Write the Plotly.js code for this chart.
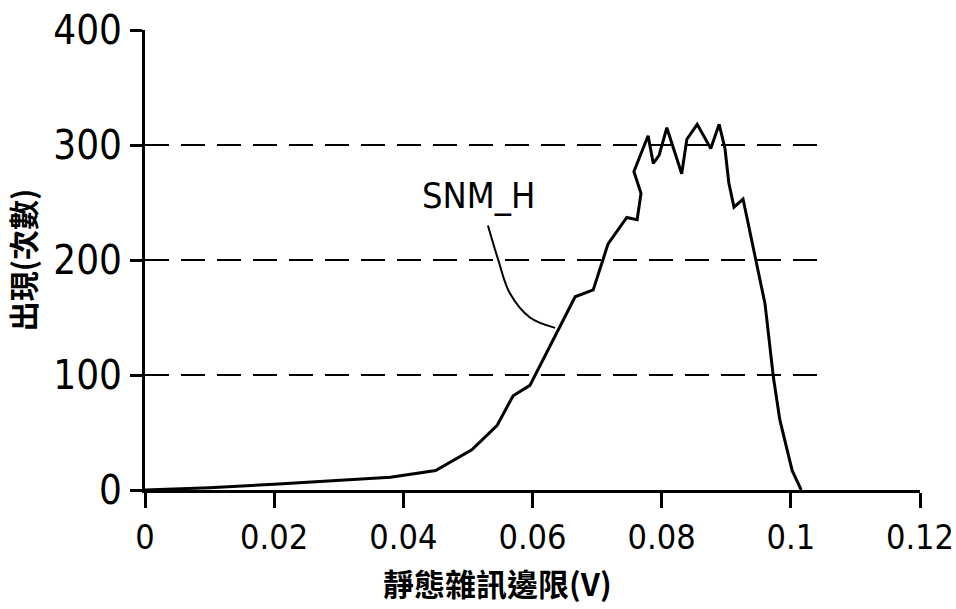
<!DOCTYPE html>
<html>
<head>
<meta charset="utf-8">
<script src="https://cdn.plot.ly/plotly-3.0.1.min.js"></script>
<style>
html,body{margin:0;padding:0;background:#fff;}
#chart{width:956px;height:609px;}
</style>
</head>
<body>
<div id="chart"></div>
<script>
// Data
const snmX = [0, 0.010, 0.020, 0.030, 0.038, 0.045, 0.0506, 0.0545, 0.057, 0.0596, 0.0666, 0.0694, 0.0717, 0.0746, 0.0762, 0.0768, 0.0757, 0.0779, 0.0787, 0.0796, 0.0808, 0.0831, 0.0839, 0.0855, 0.0876, 0.0889, 0.0898, 0.0904, 0.0912, 0.0926, 0.0960, 0.0973, 0.0983, 0.1002, 0.1016];
const snmY = [0, 2, 5, 8, 11, 17, 35, 56, 82, 91, 168, 174, 214, 237, 235, 258, 277, 308, 284, 291, 315, 275, 305, 318, 297, 318, 297, 267, 246, 253, 162, 98, 61, 17, 0];
const seriesName = "SNM_H";
const leaderX = [0.0531, 0.0547, 0.0565, 0.0596, 0.0635];
const leaderY = [230, 200, 171, 150, 141];
const labelPos = [0.0516, 256];
const xTickVals = [0, 0.02, 0.04, 0.06, 0.08, 0.1, 0.12];
const xTickText = ["0", "0.02", "0.04", "0.06", "0.08", "0.1", "0.12"];
const yTickVals = [0, 100, 200, 300, 400];
const yTickText = ["0", "100", "200", "300", "400"];
const gridValues = [100, 200, 300];
const gridEnd = 0.1048;
const xTitle = "靜態雜訊邊限(V)";
const yTitle = "出現(次數)";

const narrow = "'Liberation Sans Narrow', 'DejaVu Sans Condensed', 'Arial Narrow', sans-serif";
const cjk = "'Noto Sans CJK TC', 'Noto Sans CJK SC', sans-serif";

const traces = [
  {x: snmX, y: snmY, mode: "lines", name: seriesName,
   line: {color: "#000", width: 3}, hoverinfo: "skip"},
  {x: leaderX, y: leaderY, mode: "lines", showlegend: false,
   line: {color: "#000", width: 2, shape: "spline"}, hoverinfo: "skip"}
];

const shapes = gridValues.map(v => ({
  type: "line", xref: "x", yref: "y", x0: 0, x1: gridEnd, y0: v, y1: v,
  line: {color: "#000", width: 2, dash: "24px,12px"}, layer: "below"
}));

const layout = {
  width: 956, height: 609,
  margin: {l: 145, r: 36, t: 30, b: 119},
  paper_bgcolor: "#fff", plot_bgcolor: "#fff",
  showlegend: false,
  xaxis: {
    range: [0, 0.12], tickvals: xTickVals, ticktext: xTickText,
    showgrid: false, zeroline: false, showline: true, linecolor: "#000", linewidth: 3,
    ticks: "outside", ticklen: 15, tickwidth: 3, tickcolor: "#000",
    ticklabeloverflow: "allow",
    tickfont: {family: narrow, size: 34, color: "#000"}
  },
  yaxis: {
    range: [0, 400], tickvals: yTickVals, ticktext: yTickText,
    showgrid: false, zeroline: false, showline: true, linecolor: "#000", linewidth: 3,
    ticks: "outside", ticklen: 12, tickwidth: 3, tickcolor: "#000",
    tickfont: {family: narrow, size: 40, color: "#000"},
    title: {text: yTitle, font: {family: cjk, size: 30, color: "#000", weight: 700}, standoff: 10}
  },
  shapes: shapes,
  annotations: [
    {x: labelPos[0], y: labelPos[1], xref: "x", yref: "y", text: seriesName,
     showarrow: false, font: {family: narrow, size: 36, color: "#000"}},
    {x: 0.455, y: 0, xref: "paper", yref: "paper", yanchor: "top", yshift: -68,
     text: xTitle, showarrow: false, font: {family: cjk, size: 31, color: "#000", weight: 700}}
  ]
};

Plotly.newPlot("chart", traces, layout, {staticPlot: true, displayModeBar: false});
</script>
</body>
</html>
